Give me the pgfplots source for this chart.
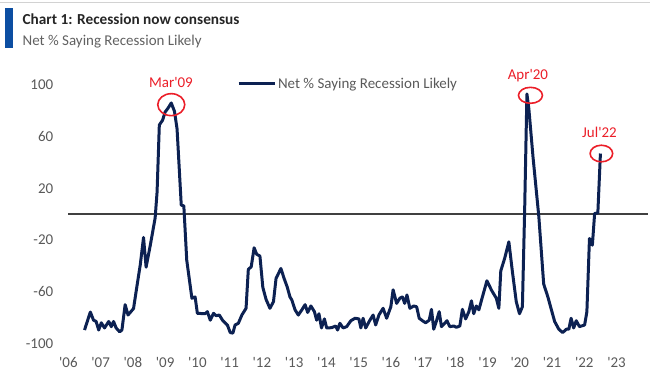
\documentclass[border=0pt]{standalone}
\usepackage{pgfplots}
\pgfplotsset{compat=1.18}
\usepackage{fontspec}
\setmainfont{Carlito}
\definecolor{navy}{RGB}{12,33,82}
\definecolor{bofared}{RGB}{235,30,40}
\definecolor{bofablue}{RGB}{12,78,162}
\definecolor{ticktxt}{RGB}{89,89,89}
\newcommand{\q}{\textquotesingle}
\begin{document}
\begin{tikzpicture}
\path (0,0) rectangle (650pt,382pt);
\draw[gray!35, line width=1pt] (0,379.5pt) -- (650pt,379.5pt);
\fill[bofablue] (5pt,334pt) rectangle (13pt,374pt);
\node[anchor=base west, inner sep=0pt, font=\fontsize{15.3}{18}\selectfont\bfseries, text=black!85] at (22pt,357pt) {Chart 1: Recession now consensus};
\node[anchor=base west, inner sep=0pt, font=\fontsize{15}{18}\selectfont, text=black!62] at (22pt,336.3pt) {Net \% Saying Recession Likely};
\begin{axis}[
  at={(68pt,38pt)}, anchor=south west,
  scale only axis, width=580pt, height=259pt,
  xmin=2006, xmax=2023.96, ymin=-100, ymax=100,
  axis line style={draw=none},
  tick style={draw=none},
  major tick length=0pt,
  xtick={2006,2007,2008,2009,2010,2011,2012,2013,2014,2015,2016,2017,2018,2019,2020,2021,2022,2023},
  xticklabels={\q 06,\q 07,\q 08,\q 09,\q 10,\q 11,\q 12,\q 13,\q 14,\q 15,\q 16,\q 17,\q 18,\q 19,\q 20,\q 21,\q 22,\q 23},
  ytick={-100,-60,-20,20,60,100},
  yticklabels={-100,-60,-20,20,60,100},
  ticklabel style={font=\fontsize{15}{18}\selectfont, text=ticktxt},
  yticklabel style={anchor=east, inner sep=0pt, xshift=-15pt},
  xticklabel style={anchor=north, inner sep=0pt, yshift=-14pt},
  clip=false,
  legend style={at={(0.291,1.004)}, anchor=west, draw=none, fill=none, inner sep=0pt,
    font=\fontsize{15}{18}\selectfont, text=ticktxt},
  legend image code/.code={\draw[line width=3pt, navy] (0pt,0pt) -- (36pt,0pt);},
]
\addplot[forget plot, black!75, line width=1.7pt] coordinates {(2006,0) (2023.96,0)};
\addplot[navy, line width=3pt, line join=round] coordinates {
(2006.50,-89.6) (2006.68,-75.7) (2006.78,-82) (2006.86,-83) (2006.94,-89.6)
(2007.02,-84) (2007.12,-88) (2007.25,-83) (2007.33,-87) (2007.40,-83)
(2007.48,-88) (2007.59,-91) (2007.66,-89.6) (2007.76,-70) (2007.85,-78)
(2008.02,-73) (2008.13,-55) (2008.23,-39) (2008.33,-18) (2008.41,-41)
(2008.54,-24) (2008.69,-3) (2008.75,17) (2008.82,69) (2008.92,72.6)
(2009.00,79) (2009.09,82) (2009.19,86) (2009.29,79.5) (2009.37,66)
(2009.50,7) (2009.58,6.4) (2009.67,-35.5) (2009.83,-65) (2009.93,-64)
(2010.00,-76.7) (2010.24,-77) (2010.31,-75.4) (2010.40,-82) (2010.50,-76.7)
(2010.58,-78.5) (2010.68,-78) (2010.79,-82.4) (2010.93,-85.7) (2011.02,-91.6)
(2011.10,-92) (2011.17,-85.7) (2011.27,-84.4) (2011.38,-78) (2011.51,-72.8)
(2011.58,-42.7) (2011.67,-40.7) (2011.76,-26) (2011.84,-31) (2011.94,-32.4)
(2012.03,-56.6) (2012.13,-65.9) (2012.25,-72.8) (2012.36,-67.7) (2012.44,-49.7)
(2012.59,-42) (2012.69,-49.7) (2012.79,-56.6) (2012.87,-63.9) (2012.93,-66.4)
(2013.03,-74) (2013.13,-78) (2013.24,-74) (2013.34,-70) (2013.42,-76)
(2013.52,-71) (2013.63,-75.4) (2013.70,-82) (2013.77,-77) (2013.85,-88)
(2013.94,-81) (2014.01,-88) (2014.16,-87.8) (2014.29,-86.5) (2014.35,-89.6)
(2014.42,-84.4) (2014.52,-88) (2014.63,-87) (2014.76,-82.4) (2014.89,-80.5)
(2015.01,-81) (2015.07,-88) (2015.14,-80.5) (2015.22,-88) (2015.35,-82)
(2015.45,-78) (2015.53,-85.7) (2015.63,-78) (2015.76,-72.8) (2015.87,-80.5)
(2016.00,-71.6) (2016.07,-58.5) (2016.18,-69) (2016.28,-65) (2016.36,-64)
(2016.43,-69) (2016.50,-62.5) (2016.59,-72.8) (2016.71,-71) (2016.80,-71.6)
(2016.88,-80.5) (2016.98,-82.4) (2017.08,-84) (2017.19,-82) (2017.26,-73.6)
(2017.33,-89) (2017.41,-83) (2017.50,-75.4) (2017.57,-87) (2017.65,-85)
(2017.74,-82.4) (2017.83,-87) (2017.95,-86.5) (2018.03,-87.5) (2018.14,-86.5)
(2018.22,-73.6) (2018.32,-81) (2018.42,-75.4) (2018.50,-67) (2018.57,-77)
(2018.65,-71) (2018.73,-74) (2018.84,-64) (2018.98,-51.5) (2019.12,-58.7)
(2019.27,-65) (2019.35,-72.8) (2019.41,-43.8) (2019.53,-34.2) (2019.66,-21.4)
(2019.77,-44.5) (2019.89,-67.7) (2019.99,-77) (2020.08,-71.6) (2020.15,3)
(2020.22,93) (2020.28,81.6) (2020.41,44) (2020.59,-2) (2020.74,-54)
(2020.87,-64) (2020.98,-74) (2021.08,-83) (2021.21,-89) (2021.33,-91.6)
(2021.44,-89) (2021.52,-89) (2021.59,-80.5) (2021.67,-88) (2021.75,-82.4)
(2021.85,-87) (2022.01,-85.7) (2022.08,-75.4) (2022.16,-18.8) (2022.25,-24)
(2022.32,0.5) (2022.42,1) (2022.50,46.9)
};
\addlegendentry{Net \% Saying Recession Likely}
\draw[bofared, line width=1.6pt] (axis cs:2009.19,84.7) ellipse [x radius=13.5pt, y radius=11pt];
\draw[bofared, line width=1.6pt] (axis cs:2020.33,91.9) ellipse [x radius=12pt, y radius=8pt];
\draw[bofared, line width=1.6pt] (axis cs:2022.53,46.9) ellipse [x radius=11.3pt, y radius=8.3pt];
\node[text=bofared, font=\fontsize{15}{18}\selectfont, inner sep=0pt] at (axis cs:2009.18,102.2) {Mar\q 09};
\node[text=bofared, font=\fontsize{15}{18}\selectfont, inner sep=0pt] at (axis cs:2020.25,107.3) {Apr\q 20};
\node[text=bofared, font=\fontsize{15}{18}\selectfont, inner sep=0pt] at (axis cs:2022.47,63.6) {Jul\q 22};
\end{axis}
\end{tikzpicture}
\end{document}
